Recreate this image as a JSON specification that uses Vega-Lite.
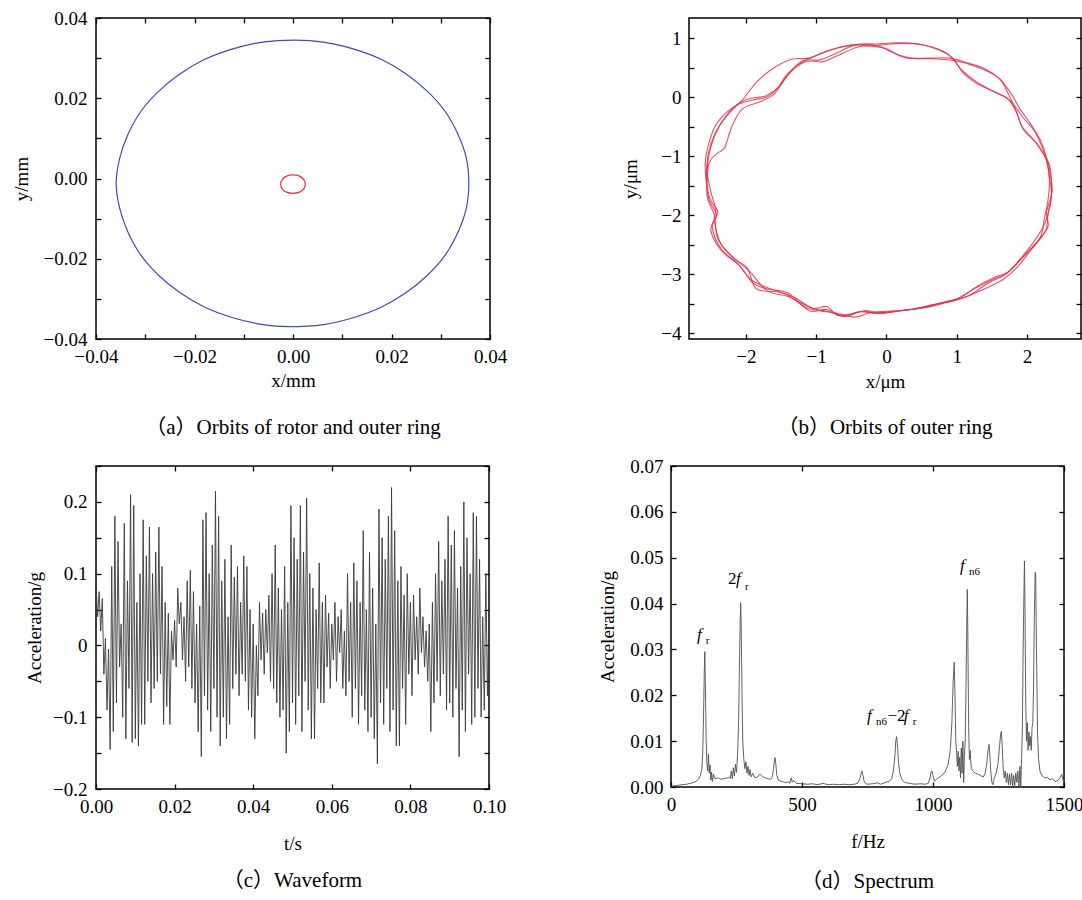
{
"$schema": "https://vega.github.io/schema/vega-lite/v6.json",
"background": "white",
"padding": {"left": 10, "top": 8, "right": 0, "bottom": 0},
"config": {
  "font": "Liberation Serif",
  "view": {"stroke": "black", "strokeWidth": 1.5},
  "axis": {"domain": false, "grid": false, "ticks": true, "tickColor": "black", "tickWidth": 1.3, "tickSize": 5, "offset": -5,
    "labelFont": "Liberation Serif", "labelFontSize": 19, "labelColor": "black", "labelFlush": false, "labelOverlap": false, "labelPadding": 8,
    "titleFont": "Liberation Serif", "titleFontSize": 19, "titleFontWeight": "normal", "titleColor": "black"},
  "title": {"font": "Liberation Serif, Noto Sans CJK SC", "fontSize": 21, "fontWeight": "normal", "color": "black", "orient": "bottom", "anchor": "middle"}
},
"datasets": {
"orbA": [
{"s":"rotor","x":0.0357,"y":-0.0012},{"s":"rotor","x":0.0352,"y":0.0050},{"s":"rotor","x":0.0335,"y":0.0110},{"s":"rotor","x":0.0309,"y":0.0167},{"s":"rotor","x":0.0273,"y":0.0217},{"s":"rotor","x":0.0229,"y":0.0261},{"s":"rotor","x":0.0179,"y":0.0297},{"s":"rotor","x":0.0122,"y":0.0323},{"s":"rotor","x":0.0062,"y":0.0340},{"s":"rotor","x":0.0003,"y":0.0345},{"s":"rotor","x":-0.0062,"y":0.0340},{"s":"rotor","x":-0.0122,"y":0.0323},{"s":"rotor","x":-0.0179,"y":0.0297},{"s":"rotor","x":-0.0229,"y":0.0261},{"s":"rotor","x":-0.0273,"y":0.0217},{"s":"rotor","x":-0.0309,"y":0.0167},{"s":"rotor","x":-0.0335,"y":0.0110},{"s":"rotor","x":-0.0352,"y":0.0050},{"s":"rotor","x":-0.0359,"y":-0.0014},{"s":"rotor","x":-0.0352,"y":-0.0074},{"s":"rotor","x":-0.0335,"y":-0.0134},{"s":"rotor","x":-0.0309,"y":-0.0191},{"s":"rotor","x":-0.0273,"y":-0.0241},{"s":"rotor","x":-0.0229,"y":-0.0285},{"s":"rotor","x":-0.0179,"y":-0.0321},{"s":"rotor","x":-0.0122,"y":-0.0347},{"s":"rotor","x":-0.0062,"y":-0.0364},{"s":"rotor","x":-0.0008,"y":-0.0369},{"s":"rotor","x":0.0062,"y":-0.0364},{"s":"rotor","x":0.0122,"y":-0.0347},{"s":"rotor","x":0.0179,"y":-0.0321},{"s":"rotor","x":0.0229,"y":-0.0285},{"s":"rotor","x":0.0273,"y":-0.0241},{"s":"rotor","x":0.0309,"y":-0.0191},{"s":"rotor","x":0.0335,"y":-0.0134},{"s":"rotor","x":0.0352,"y":-0.0074},
{"s":"ring","x":0.0025,"y":-0.0014},{"s":"ring","x":0.0022,"y":-0.0003},{"s":"ring","x":0.0013,"y":0.0006},{"s":"ring","x":0.0000,"y":0.0009},{"s":"ring","x":-0.0013,"y":0.0006},{"s":"ring","x":-0.0022,"y":-0.0003},{"s":"ring","x":-0.0025,"y":-0.0014},{"s":"ring","x":-0.0022,"y":-0.0026},{"s":"ring","x":-0.0013,"y":-0.0034},{"s":"ring","x":0.0000,"y":-0.0037},{"s":"ring","x":0.0013,"y":-0.0034},{"s":"ring","x":0.0022,"y":-0.0026}
],
"orbB": [
{"s":1,"x":-2.55,"y":-1.25},{"s":1,"x":-2.50,"y":-0.85},{"s":1,"x":-2.38,"y":-0.50},{"s":1,"x":-2.22,"y":-0.25},{"s":1,"x":-2.05,"y":-0.05},{"s":1,"x":-1.85,"y":0.25},{"s":1,"x":-1.62,"y":0.48},{"s":1,"x":-1.35,"y":0.64},{"s":1,"x":-1.10,"y":0.66},{"s":1,"x":-0.85,"y":0.78},{"s":1,"x":-0.50,"y":0.88},{"s":1,"x":-0.20,"y":0.86},{"s":1,"x":0.00,"y":0.82},{"s":1,"x":0.15,"y":0.72},{"s":1,"x":0.30,"y":0.66},{"s":1,"x":0.60,"y":0.66},{"s":1,"x":0.90,"y":0.66},{"s":1,"x":1.15,"y":0.58},{"s":1,"x":1.40,"y":0.48},{"s":1,"x":1.62,"y":0.30},{"s":1,"x":1.78,"y":0.05},{"s":1,"x":1.90,"y":-0.20},{"s":1,"x":2.05,"y":-0.45},{"s":1,"x":2.20,"y":-0.75},{"s":1,"x":2.28,"y":-1.05},{"s":1,"x":2.32,"y":-1.40},{"s":1,"x":2.30,"y":-1.75},{"s":1,"x":2.25,"y":-2.05},{"s":1,"x":2.20,"y":-2.35},{"s":1,"x":2.05,"y":-2.60},{"s":1,"x":1.85,"y":-2.90},{"s":1,"x":1.65,"y":-3.10},{"s":1,"x":1.40,"y":-3.25},{"s":1,"x":1.10,"y":-3.40},{"s":1,"x":0.80,"y":-3.50},{"s":1,"x":0.50,"y":-3.58},{"s":1,"x":0.20,"y":-3.62},{"s":1,"x":-0.10,"y":-3.65},{"s":1,"x":-0.30,"y":-3.62},{"s":1,"x":-0.50,"y":-3.68},{"s":1,"x":-0.70,"y":-3.70},{"s":1,"x":-0.85,"y":-3.55},{"s":1,"x":-1.05,"y":-3.58},{"s":1,"x":-1.30,"y":-3.40},{"s":1,"x":-1.55,"y":-3.30},{"s":1,"x":-1.85,"y":-3.25},{"s":1,"x":-1.98,"y":-2.90},{"s":1,"x":-2.15,"y":-2.75},{"s":1,"x":-2.35,"y":-2.50},{"s":1,"x":-2.45,"y":-2.10},{"s":1,"x":-2.43,"y":-1.90},{"s":1,"x":-2.50,"y":-1.60},
{"s":2,"x":-2.58,"y":-1.15},{"s":2,"x":-2.52,"y":-0.75},{"s":2,"x":-2.40,"y":-0.42},{"s":2,"x":-2.15,"y":-0.15},{"s":2,"x":-1.90,"y":-0.05},{"s":2,"x":-1.70,"y":0.00},{"s":2,"x":-1.55,"y":0.15},{"s":2,"x":-1.40,"y":0.40},{"s":2,"x":-1.15,"y":0.60},{"s":2,"x":-0.90,"y":0.60},{"s":2,"x":-0.70,"y":0.70},{"s":2,"x":-0.40,"y":0.85},{"s":2,"x":-0.10,"y":0.88},{"s":2,"x":0.20,"y":0.91},{"s":2,"x":0.50,"y":0.89},{"s":2,"x":0.80,"y":0.78},{"s":2,"x":0.95,"y":0.65},{"s":2,"x":1.10,"y":0.40},{"s":2,"x":1.30,"y":0.22},{"s":2,"x":1.55,"y":0.08},{"s":2,"x":1.75,"y":-0.05},{"s":2,"x":1.85,"y":-0.25},{"s":2,"x":1.95,"y":-0.55},{"s":2,"x":2.15,"y":-0.80},{"s":2,"x":2.30,"y":-1.10},{"s":2,"x":2.33,"y":-1.30},{"s":2,"x":2.36,"y":-1.60},{"s":2,"x":2.28,"y":-1.95},{"s":2,"x":2.30,"y":-2.20},{"s":2,"x":2.15,"y":-2.45},{"s":2,"x":1.95,"y":-2.70},{"s":2,"x":1.75,"y":-2.95},{"s":2,"x":1.55,"y":-3.05},{"s":2,"x":1.30,"y":-3.20},{"s":2,"x":1.05,"y":-3.40},{"s":2,"x":0.80,"y":-3.48},{"s":2,"x":0.50,"y":-3.57},{"s":2,"x":0.20,"y":-3.62},{"s":2,"x":-0.10,"y":-3.67},{"s":2,"x":-0.35,"y":-3.63},{"s":2,"x":-0.60,"y":-3.72},{"s":2,"x":-0.85,"y":-3.60},{"s":2,"x":-1.10,"y":-3.62},{"s":2,"x":-1.40,"y":-3.32},{"s":2,"x":-1.70,"y":-3.25},{"s":2,"x":-1.90,"y":-3.15},{"s":2,"x":-2.10,"y":-2.85},{"s":2,"x":-2.35,"y":-2.60},{"s":2,"x":-2.50,"y":-2.25},{"s":2,"x":-2.40,"y":-1.95},{"s":2,"x":-2.52,"y":-1.70},
{"s":3,"x":-2.52,"y":-1.10},{"s":3,"x":-2.40,"y":-0.95},{"s":3,"x":-2.30,"y":-0.85},{"s":3,"x":-2.20,"y":-0.50},{"s":3,"x":-2.05,"y":-0.20},{"s":3,"x":-1.80,"y":-0.08},{"s":3,"x":-1.60,"y":0.05},{"s":3,"x":-1.45,"y":0.30},{"s":3,"x":-1.25,"y":0.55},{"s":3,"x":-1.00,"y":0.70},{"s":3,"x":-0.60,"y":0.86},{"s":3,"x":-0.30,"y":0.90},{"s":3,"x":-0.10,"y":0.86},{"s":3,"x":0.10,"y":0.75},{"s":3,"x":0.35,"y":0.66},{"s":3,"x":0.65,"y":0.65},{"s":3,"x":0.95,"y":0.62},{"s":3,"x":1.20,"y":0.55},{"s":3,"x":1.50,"y":0.40},{"s":3,"x":1.65,"y":0.25},{"s":3,"x":1.80,"y":-0.10},{"s":3,"x":1.95,"y":-0.35},{"s":3,"x":2.12,"y":-0.60},{"s":3,"x":2.25,"y":-0.95},{"s":3,"x":2.33,"y":-1.20},{"s":3,"x":2.35,"y":-1.55},{"s":3,"x":2.33,"y":-1.85},{"s":3,"x":2.25,"y":-2.15},{"s":3,"x":2.10,"y":-2.45},{"s":3,"x":1.90,"y":-2.75},{"s":3,"x":1.70,"y":-3.00},{"s":3,"x":1.45,"y":-3.15},{"s":3,"x":1.20,"y":-3.35},{"s":3,"x":0.95,"y":-3.45},{"s":3,"x":0.65,"y":-3.52},{"s":3,"x":0.35,"y":-3.60},{"s":3,"x":0.00,"y":-3.63},{"s":3,"x":-0.25,"y":-3.66},{"s":3,"x":-0.45,"y":-3.73},{"s":3,"x":-0.75,"y":-3.65},{"s":3,"x":-0.95,"y":-3.62},{"s":3,"x":-1.20,"y":-3.50},{"s":3,"x":-1.40,"y":-3.38},{"s":3,"x":-1.70,"y":-3.28},{"s":3,"x":-1.95,"y":-2.95},{"s":3,"x":-2.20,"y":-2.70},{"s":3,"x":-2.40,"y":-2.40},{"s":3,"x":-2.45,"y":-2.00},{"s":3,"x":-2.55,"y":-1.70},{"s":3,"x":-2.55,"y":-1.40},
{"s":4,"x":-2.56,"y":-1.20},{"s":4,"x":-2.50,"y":-0.80},{"s":4,"x":-2.36,"y":-0.45},{"s":4,"x":-2.12,"y":-0.12},{"s":4,"x":-1.92,"y":-0.02},{"s":4,"x":-1.72,"y":0.02},{"s":4,"x":-1.52,"y":0.18},{"s":4,"x":-1.38,"y":0.42},{"s":4,"x":-1.18,"y":0.62},{"s":4,"x":-0.95,"y":0.63},{"s":4,"x":-0.72,"y":0.74},{"s":4,"x":-0.45,"y":0.88},{"s":4,"x":-0.15,"y":0.90},{"s":4,"x":0.15,"y":0.92},{"s":4,"x":0.45,"y":0.90},{"s":4,"x":0.75,"y":0.80},{"s":4,"x":0.92,"y":0.68},{"s":4,"x":1.08,"y":0.45},{"s":4,"x":1.28,"y":0.26},{"s":4,"x":1.52,"y":0.10},{"s":4,"x":1.72,"y":-0.02},{"s":4,"x":1.84,"y":-0.22},{"s":4,"x":1.93,"y":-0.50},{"s":4,"x":2.12,"y":-0.76},{"s":4,"x":2.27,"y":-1.05},{"s":4,"x":2.32,"y":-1.35},{"s":4,"x":2.35,"y":-1.65},{"s":4,"x":2.30,"y":-1.98},{"s":4,"x":2.27,"y":-2.25},{"s":4,"x":2.12,"y":-2.50},{"s":4,"x":1.92,"y":-2.74},{"s":4,"x":1.72,"y":-2.98},{"s":4,"x":1.50,"y":-3.10},{"s":4,"x":1.25,"y":-3.25},{"s":4,"x":1.00,"y":-3.42},{"s":4,"x":0.75,"y":-3.50},{"s":4,"x":0.45,"y":-3.58},{"s":4,"x":0.15,"y":-3.63},{"s":4,"x":-0.15,"y":-3.66},{"s":4,"x":-0.38,"y":-3.64},{"s":4,"x":-0.62,"y":-3.70},{"s":4,"x":-0.88,"y":-3.62},{"s":4,"x":-1.12,"y":-3.58},{"s":4,"x":-1.42,"y":-3.35},{"s":4,"x":-1.72,"y":-3.22},{"s":4,"x":-1.92,"y":-3.10},{"s":4,"x":-2.12,"y":-2.82},{"s":4,"x":-2.36,"y":-2.56},{"s":4,"x":-2.48,"y":-2.20},{"s":4,"x":-2.42,"y":-1.98},{"s":4,"x":-2.53,"y":-1.72}
],
"wave": [
{"t":0.0000,"a":0.085},{"t":0.0004,"a":0.040},{"t":0.0008,"a":0.075},{"t":0.0012,"a":0.020},{"t":0.0016,"a":0.065},{"t":0.0020,"a":-0.040},{"t":0.0024,"a":0.010},{"t":0.0028,"a":-0.090},{"t":0.0032,"a":-0.005},{"t":0.0036,"a":-0.145},{"t":0.0040,"a":0.110},{"t":0.0044,"a":-0.120},{"t":0.0048,"a":0.180},{"t":0.0052,"a":-0.080},{"t":0.0056,"a":0.145},{"t":0.0060,"a":-0.030},{"t":0.0064,"a":0.030},{"t":0.0068,"a":-0.100},{"t":0.0072,"a":0.170},{"t":0.0076,"a":-0.130},{"t":0.0080,"a":0.090},{"t":0.0084,"a":-0.060},{"t":0.0088,"a":0.210},{"t":0.0092,"a":-0.135},{"t":0.0096,"a":0.195},{"t":0.0100,"a":-0.130},
{"t":0.0104,"a":0.060},{"t":0.0108,"a":-0.140},{"t":0.0112,"a":0.100},{"t":0.0116,"a":-0.110},{"t":0.0120,"a":0.175},{"t":0.0124,"a":-0.110},{"t":0.0128,"a":0.125},{"t":0.0132,"a":-0.050},{"t":0.0136,"a":0.165},{"t":0.0140,"a":-0.080},{"t":0.0144,"a":0.100},{"t":0.0148,"a":-0.060},{"t":0.0152,"a":0.130},{"t":0.0156,"a":-0.050},{"t":0.0160,"a":0.165},{"t":0.0164,"a":-0.040},{"t":0.0168,"a":0.110},{"t":0.0172,"a":-0.110},{"t":0.0176,"a":0.060},{"t":0.0180,"a":-0.085},{"t":0.0184,"a":0.045},{"t":0.0188,"a":-0.110},{"t":0.0192,"a":0.020},{"t":0.0196,"a":-0.020},{"t":0.0200,"a":0.035},
{"t":0.0204,"a":-0.030},{"t":0.0208,"a":0.080},{"t":0.0212,"a":0.030},{"t":0.0216,"a":0.060},{"t":0.0220,"a":-0.020},{"t":0.0224,"a":0.040},{"t":0.0228,"a":-0.050},{"t":0.0232,"a":0.090},{"t":0.0236,"a":-0.030},{"t":0.0240,"a":0.105},{"t":0.0244,"a":-0.060},{"t":0.0248,"a":0.075},{"t":0.0252,"a":-0.080},{"t":0.0256,"a":0.030},{"t":0.0260,"a":-0.120},{"t":0.0264,"a":0.055},{"t":0.0268,"a":-0.155},{"t":0.0272,"a":0.175},{"t":0.0276,"a":-0.070},{"t":0.0280,"a":0.185},{"t":0.0284,"a":-0.090},{"t":0.0288,"a":0.100},{"t":0.0292,"a":-0.120},{"t":0.0296,"a":0.140},{"t":0.0300,"a":-0.060},
{"t":0.0304,"a":0.215},{"t":0.0308,"a":-0.100},{"t":0.0312,"a":0.180},{"t":0.0316,"a":-0.140},{"t":0.0320,"a":0.090},{"t":0.0324,"a":-0.100},{"t":0.0328,"a":0.120},{"t":0.0332,"a":-0.130},{"t":0.0336,"a":0.040},{"t":0.0340,"a":-0.110},{"t":0.0344,"a":0.140},{"t":0.0348,"a":-0.060},{"t":0.0352,"a":0.095},{"t":0.0356,"a":-0.040},{"t":0.0360,"a":0.110},{"t":0.0364,"a":-0.070},{"t":0.0368,"a":0.060},{"t":0.0372,"a":-0.040},{"t":0.0376,"a":0.125},{"t":0.0380,"a":-0.050},{"t":0.0384,"a":0.110},{"t":0.0388,"a":-0.090},{"t":0.0392,"a":0.050},{"t":0.0396,"a":-0.100},{"t":0.0400,"a":0.030},
{"t":0.0404,"a":-0.130},{"t":0.0408,"a":0.000},{"t":0.0412,"a":-0.070},{"t":0.0416,"a":0.060},{"t":0.0420,"a":-0.020},{"t":0.0424,"a":0.045},{"t":0.0428,"a":-0.040},{"t":0.0432,"a":0.050},{"t":0.0436,"a":-0.010},{"t":0.0440,"a":0.070},{"t":0.0444,"a":-0.050},{"t":0.0448,"a":0.100},{"t":0.0452,"a":-0.060},{"t":0.0456,"a":0.140},{"t":0.0460,"a":-0.080},{"t":0.0464,"a":0.080},{"t":0.0468,"a":-0.100},{"t":0.0472,"a":0.050},{"t":0.0476,"a":-0.090},{"t":0.0480,"a":0.110},{"t":0.0484,"a":-0.150},{"t":0.0488,"a":0.060},{"t":0.0492,"a":-0.120},{"t":0.0496,"a":0.195},{"t":0.0500,"a":-0.080},
{"t":0.0504,"a":0.150},{"t":0.0508,"a":-0.110},{"t":0.0512,"a":0.120},{"t":0.0516,"a":-0.070},{"t":0.0520,"a":0.195},{"t":0.0524,"a":-0.120},{"t":0.0528,"a":0.130},{"t":0.0532,"a":-0.050},{"t":0.0536,"a":0.205},{"t":0.0540,"a":-0.090},{"t":0.0544,"a":0.100},{"t":0.0548,"a":-0.130},{"t":0.0552,"a":0.080},{"t":0.0556,"a":-0.130},{"t":0.0560,"a":0.050},{"t":0.0564,"a":-0.060},{"t":0.0568,"a":0.115},{"t":0.0572,"a":-0.080},{"t":0.0576,"a":0.060},{"t":0.0580,"a":-0.080},{"t":0.0584,"a":0.070},{"t":0.0588,"a":-0.030},{"t":0.0592,"a":0.045},{"t":0.0596,"a":-0.060},{"t":0.0600,"a":0.030},
{"t":0.0604,"a":-0.020},{"t":0.0608,"a":0.060},{"t":0.0612,"a":-0.050},{"t":0.0616,"a":0.040},{"t":0.0620,"a":-0.010},{"t":0.0624,"a":0.050},{"t":0.0628,"a":-0.060},{"t":0.0632,"a":0.020},{"t":0.0636,"a":-0.070},{"t":0.0640,"a":0.100},{"t":0.0644,"a":-0.050},{"t":0.0648,"a":0.060},{"t":0.0652,"a":-0.100},{"t":0.0656,"a":0.115},{"t":0.0660,"a":-0.060},{"t":0.0664,"a":0.090},{"t":0.0668,"a":-0.110},{"t":0.0672,"a":0.060},{"t":0.0676,"a":-0.070},{"t":0.0680,"a":0.160},{"t":0.0684,"a":-0.090},{"t":0.0688,"a":0.050},{"t":0.0692,"a":-0.120},{"t":0.0696,"a":0.130},{"t":0.0700,"a":-0.100},
{"t":0.0704,"a":0.080},{"t":0.0708,"a":-0.130},{"t":0.0712,"a":0.030},{"t":0.0716,"a":-0.165},{"t":0.0720,"a":0.190},{"t":0.0724,"a":-0.080},{"t":0.0728,"a":0.150},{"t":0.0732,"a":-0.110},{"t":0.0736,"a":0.120},{"t":0.0740,"a":-0.060},{"t":0.0744,"a":0.180},{"t":0.0748,"a":-0.120},{"t":0.0752,"a":0.220},{"t":0.0756,"a":-0.090},{"t":0.0760,"a":0.160},{"t":0.0764,"a":-0.140},{"t":0.0768,"a":0.090},{"t":0.0772,"a":-0.140},{"t":0.0776,"a":0.110},{"t":0.0780,"a":-0.060},{"t":0.0784,"a":0.070},{"t":0.0788,"a":-0.110},{"t":0.0792,"a":0.100},{"t":0.0796,"a":-0.040},{"t":0.0800,"a":0.060},
{"t":0.0804,"a":-0.070},{"t":0.0808,"a":0.070},{"t":0.0812,"a":-0.020},{"t":0.0816,"a":0.040},{"t":0.0820,"a":-0.040},{"t":0.0824,"a":0.080},{"t":0.0828,"a":-0.010},{"t":0.0832,"a":0.040},{"t":0.0836,"a":-0.030},{"t":0.0840,"a":0.020},{"t":0.0844,"a":-0.050},{"t":0.0848,"a":0.030},{"t":0.0852,"a":-0.120},{"t":0.0856,"a":0.060},{"t":0.0860,"a":-0.080},{"t":0.0864,"a":0.100},{"t":0.0868,"a":-0.050},{"t":0.0872,"a":0.145},{"t":0.0876,"a":-0.070},{"t":0.0880,"a":0.090},{"t":0.0884,"a":-0.040},{"t":0.0888,"a":0.120},{"t":0.0892,"a":-0.090},{"t":0.0896,"a":0.180},{"t":0.0900,"a":-0.080},
{"t":0.0904,"a":0.140},{"t":0.0908,"a":-0.100},{"t":0.0912,"a":0.160},{"t":0.0916,"a":-0.060},{"t":0.0920,"a":0.080},{"t":0.0924,"a":-0.155},{"t":0.0928,"a":0.110},{"t":0.0932,"a":-0.090},{"t":0.0936,"a":0.200},{"t":0.0940,"a":-0.120},{"t":0.0944,"a":0.150},{"t":0.0948,"a":-0.040},{"t":0.0952,"a":0.100},{"t":0.0956,"a":-0.110},{"t":0.0960,"a":0.185},{"t":0.0964,"a":-0.100},{"t":0.0968,"a":0.180},{"t":0.0972,"a":-0.060},{"t":0.0976,"a":0.120},{"t":0.0980,"a":-0.100},{"t":0.0984,"a":0.040},{"t":0.0988,"a":-0.090},{"t":0.0992,"a":0.100},{"t":0.0996,"a":-0.070},{"t":0.1000,"a":0.050}
],
"spec": [
{"f":0,"a":0.0002},{"f":20,"a":0.0003},{"f":40,"a":0.0005},{"f":60,"a":0.0006},{"f":80,"a":0.0009},{"f":95,"a":0.0012},{"f":105,"a":0.0017},{"f":112,"a":0.0025},{"f":118,"a":0.0040},{"f":121,"a":0.0075},{"f":124,"a":0.0150},{"f":127,"a":0.0250},{"f":129,"a":0.0295},{"f":131,"a":0.0230},{"f":134,"a":0.0110},{"f":137,"a":0.0050},{"f":140,"a":0.0035},{"f":143,"a":0.0072},{"f":146,"a":0.0030},{"f":149,"a":0.0048},{"f":152,"a":0.0015},{"f":155,"a":0.0032},{"f":158,"a":0.0012},{"f":162,"a":0.0028},{"f":168,"a":0.0018},{"f":180,"a":0.0020},{"f":190,"a":0.0017},{"f":200,"a":0.0018},{"f":210,"a":0.0019},{"f":220,"a":0.0021},{"f":226,"a":0.0019},{"f":230,"a":0.0035},{"f":234,"a":0.0018},{"f":238,"a":0.0042},{"f":242,"a":0.0024},{"f":246,"a":0.0050},{"f":250,"a":0.0032},{"f":254,"a":0.0070},{"f":258,"a":0.0140},{"f":261,"a":0.0260},{"f":264,"a":0.0360},{"f":266,"a":0.0402},{"f":268,"a":0.0350},{"f":271,"a":0.0200},{"f":274,"a":0.0100},{"f":278,"a":0.0060},{"f":282,"a":0.0040},{"f":286,"a":0.0055},{"f":290,"a":0.0030},{"f":294,"a":0.0045},{"f":298,"a":0.0025},{"f":302,"a":0.0038},{"f":306,"a":0.0022},{"f":312,"a":0.0030},{"f":320,"a":0.0020},{"f":330,"a":0.0022},{"f":340,"a":0.0028},{"f":350,"a":0.0022},{"f":360,"a":0.0020},{"f":370,"a":0.0018},{"f":380,"a":0.0017},{"f":386,"a":0.0020},{"f":391,"a":0.0038},{"f":394,"a":0.0055},{"f":397,"a":0.0064},{"f":400,"a":0.0050},{"f":404,"a":0.0025},{"f":410,"a":0.0015},{"f":420,"a":0.0012},{"f":430,"a":0.0011},{"f":440,"a":0.0009},{"f":448,"a":0.0012},{"f":453,"a":0.0008},{"f":459,"a":0.0020},{"f":463,"a":0.0010},{"f":468,"a":0.0014},{"f":478,"a":0.0008},{"f":500,"a":0.0007},{"f":520,"a":0.0006},{"f":540,"a":0.0007},{"f":560,"a":0.0005},{"f":580,"a":0.0008},{"f":600,"a":0.0005},{"f":620,"a":0.0006},{"f":640,"a":0.0005},{"f":660,"a":0.0006},{"f":680,"a":0.0005},{"f":700,"a":0.0006},{"f":712,"a":0.0008},{"f":721,"a":0.0018},{"f":726,"a":0.0030},{"f":729,"a":0.0035},{"f":733,"a":0.0025},{"f":738,"a":0.0010},{"f":748,"a":0.0006},{"f":768,"a":0.0007},{"f":788,"a":0.0009},{"f":800,"a":0.0006},{"f":818,"a":0.0010},{"f":832,"a":0.0012},{"f":842,"a":0.0018},{"f":849,"a":0.0035},{"f":855,"a":0.0070},{"f":858,"a":0.0100},{"f":861,"a":0.0110},{"f":864,"a":0.0095},{"f":868,"a":0.0055},{"f":874,"a":0.0028},{"f":882,"a":0.0016},{"f":892,"a":0.0010},{"f":910,"a":0.0008},{"f":930,"a":0.0006},{"f":950,"a":0.0007},{"f":970,"a":0.0006},{"f":982,"a":0.0008},{"f":989,"a":0.0020},{"f":993,"a":0.0033},{"f":996,"a":0.0035},{"f":1000,"a":0.0025},{"f":1005,"a":0.0013},{"f":1016,"a":0.0018},{"f":1031,"a":0.0024},{"f":1046,"a":0.0033},{"f":1058,"a":0.0050},{"f":1066,"a":0.0080},{"f":1072,"a":0.0140},{"f":1077,"a":0.0230},{"f":1081,"a":0.0272},{"f":1084,"a":0.0200},{"f":1087,"a":0.0100},{"f":1090,"a":0.0075},{"f":1093,"a":0.0045},{"f":1096,"a":0.0078},{"f":1099,"a":0.0035},{"f":1102,"a":0.0065},{"f":1105,"a":0.0020},{"f":1108,"a":0.0085},{"f":1111,"a":0.0030},{"f":1114,"a":0.0100},{"f":1117,"a":0.0010},{"f":1120,"a":0.0070},{"f":1123,"a":0.0100},{"f":1126,"a":0.0220},{"f":1129,"a":0.0360},{"f":1131,"a":0.0431},{"f":1133,"a":0.0330},{"f":1136,"a":0.0130},{"f":1139,"a":0.0060},{"f":1142,"a":0.0080},{"f":1146,"a":0.0040},{"f":1152,"a":0.0035},{"f":1162,"a":0.0030},{"f":1172,"a":0.0028},{"f":1182,"a":0.0025},{"f":1192,"a":0.0022},{"f":1199,"a":0.0030},{"f":1205,"a":0.0050},{"f":1210,"a":0.0080},{"f":1214,"a":0.0093},{"f":1217,"a":0.0070},{"f":1221,"a":0.0030},{"f":1225,"a":0.0010},{"f":1229,"a":0.0005},{"f":1234,"a":0.0020},{"f":1241,"a":0.0030},{"f":1248,"a":0.0050},{"f":1254,"a":0.0090},{"f":1258,"a":0.0115},{"f":1261,"a":0.0121},{"f":1264,"a":0.0090},{"f":1268,"a":0.0040},{"f":1272,"a":0.0020},{"f":1276,"a":0.0035},{"f":1280,"a":0.0010},{"f":1284,"a":0.0030},{"f":1288,"a":0.0005},{"f":1292,"a":0.0028},{"f":1296,"a":0.0005},{"f":1300,"a":0.0030},{"f":1304,"a":0.0003},{"f":1308,"a":0.0025},{"f":1312,"a":0.0003},{"f":1316,"a":0.0030},{"f":1320,"a":0.0010},{"f":1324,"a":0.0035},{"f":1328,"a":0.0002},{"f":1332,"a":0.0045},{"f":1335,"a":0.0000},{"f":1338,"a":0.0060},{"f":1341,"a":0.0120},{"f":1344,"a":0.0300},{"f":1347,"a":0.0420},{"f":1349,"a":0.0493},{"f":1351,"a":0.0400},{"f":1354,"a":0.0180},{"f":1357,"a":0.0100},{"f":1360,"a":0.0140},{"f":1363,"a":0.0080},{"f":1366,"a":0.0120},{"f":1369,"a":0.0090},{"f":1372,"a":0.0110},{"f":1375,"a":0.0080},{"f":1378,"a":0.0130},{"f":1381,"a":0.0140},{"f":1384,"a":0.0220},{"f":1387,"a":0.0380},{"f":1390,"a":0.0468},{"f":1392,"a":0.0460},{"f":1395,"a":0.0300},{"f":1399,"a":0.0120},{"f":1403,"a":0.0060},{"f":1408,"a":0.0035},{"f":1416,"a":0.0025},{"f":1426,"a":0.0020},{"f":1436,"a":0.0021},{"f":1446,"a":0.0016},{"f":1456,"a":0.0018},{"f":1466,"a":0.0012},{"f":1476,"a":0.0014},{"f":1485,"a":0.0020},{"f":1491,"a":0.0028},{"f":1496,"a":0.0016},{"f":1500,"a":0.0008}
],
"ann": [
{"f":99,"v":0.0320,"s":"f","k":"i"},{"f":133,"v":0.0312,"s":"r","k":"b"},
{"f":218,"v":0.0443,"s":"2","k":"u"},{"f":248,"v":0.0443,"s":"f","k":"i"},{"f":282,"v":0.0429,"s":"r","k":"b"},
{"f":748,"v":0.0144,"s":"f","k":"i"},{"f":782,"v":0.0135,"s":"n6","k":"b"},{"f":826,"v":0.0144,"s":"−2","k":"u"},{"f":888,"v":0.0144,"s":"f","k":"i"},{"f":923,"v":0.0135,"s":"r","k":"b"},
{"f":1103,"v":0.0471,"s":"f","k":"i"},{"f":1137,"v":0.0462,"s":"n6","k":"b"}
]
},
"vconcat": [
{"hconcat": [
 {"width": 394, "height": 321, "data": {"name": "orbA"},
  "title": {"text": "（a）Orbits of rotor and outer ring", "offset": 27},
  "layer": [
   {"mark": {"type": "line", "interpolate": "cardinal-closed", "strokeWidth": 1.2},
    "encoding": {
     "x": {"field": "x", "type": "quantitative", "scale": {"domain": [-0.04, 0.04], "nice": false, "zero": false},
       "axis": {"orient": "bottom", "values": [-0.04,-0.03,-0.02,-0.01,0,0.01,0.02,0.03,0.04], "labelExpr": "abs(round(datum.value*100)) % 2 == 0 ? format(datum.value, '.2f') : ''", "title": "x/mm", "titlePadding": 5}},
     "y": {"field": "y", "type": "quantitative", "scale": {"domain": [-0.04, 0.04], "nice": false, "zero": false},
       "axis": {"orient": "left", "values": [-0.04,-0.03,-0.02,-0.01,0,0.01,0.02,0.03,0.04], "labelExpr": "abs(round(datum.value*100)) % 2 == 0 ? format(datum.value, '.2f') : ''", "title": "y/mm", "titlePadding": 12, "labelPadding": 9}},
     "color": {"field": "s", "type": "nominal", "scale": {"domain": ["rotor", "ring"], "range": ["#3d4db0", "#e8323c"]}, "legend": null},
     "order": {"value": null}}},
   {"mark": {"type": "line", "opacity": 0},
    "encoding": {
     "x": {"field": "x", "type": "quantitative", "scale": {"domain": [-0.04, 0.04], "nice": false, "zero": false},
       "axis": {"orient": "top", "values": [-0.04,-0.03,-0.02,-0.01,0,0.01,0.02,0.03,0.04], "labels": false, "title": null}},
     "y": {"field": "y", "type": "quantitative", "scale": {"domain": [-0.04, 0.04], "nice": false, "zero": false},
       "axis": {"orient": "right", "values": [-0.04,-0.03,-0.02,-0.01,0,0.01,0.02,0.03,0.04], "labels": false, "title": null}},
     "detail": {"field": "s"}, "order": {"value": null}}}
  ],
  "resolve": {"axis": {"x": "independent", "y": "independent"}}
 },
 {"width": 392, "height": 321, "data": {"name": "orbB"},
  "title": {"text": "（b）Orbits of outer ring", "offset": 26},
  "layer": [
   {"mark": {"type": "line", "interpolate": "cardinal-closed", "strokeWidth": 1.1, "color": "#e6304a", "opacity": 0.85},
    "encoding": {
     "x": {"field": "x", "type": "quantitative", "scale": {"domain": [-2.81, 2.77], "nice": false, "zero": false},
       "axis": {"orient": "bottom", "values": [-2,-1,0,1,2], "format": "d", "title": "x/μm", "titlePadding": 6}},
     "y": {"field": "y", "type": "quantitative", "scale": {"domain": [-4.1, 1.34], "nice": false, "zero": false},
       "axis": {"orient": "left", "values": [-4,-3.5,-3,-2.5,-2,-1.5,-1,-0.5,0,0.5,1], "labelExpr": "abs(round(datum.value*2)) % 2 == 0 ? format(datum.value, 'd') : ''", "title": "y/μm", "titlePadding": 20, "labelPadding": 8}},
     "detail": {"field": "s"},
     "order": {"value": null}}},
   {"mark": {"type": "line", "opacity": 0},
    "encoding": {
     "x": {"field": "x", "type": "quantitative", "scale": {"domain": [-2.81, 2.77], "nice": false, "zero": false},
       "axis": {"orient": "top", "values": [-2,-1,0,1,2], "labels": false, "title": null}},
     "y": {"field": "y", "type": "quantitative", "scale": {"domain": [-4.1, 1.34], "nice": false, "zero": false},
       "axis": {"orient": "right", "values": [-4,-3.5,-3,-2.5,-2,-1.5,-1,-0.5,0,0.5,1], "labels": false, "title": null}},
     "detail": {"field": "s"}, "order": {"value": null}}}
  ],
  "resolve": {"axis": {"x": "independent", "y": "independent"}}
 }
], "spacing": 199, "bounds": "flush"},
{"hconcat": [
 {"width": 393, "height": 323, "data": {"name": "wave"},
  "title": {"text": "（c）Waveform", "offset": 17},
  "layer": [
   {"mark": {"type": "line", "strokeWidth": 0.9, "color": "#3a3a3a"},
    "encoding": {
     "x": {"field": "t", "type": "quantitative", "scale": {"domain": [0, 0.1], "nice": false, "zero": false},
       "axis": {"orient": "bottom", "values": [0,0.02,0.04,0.06,0.08,0.1], "format": ".2f", "title": "t/s", "titlePadding": 18}},
     "y": {"field": "a", "type": "quantitative", "scale": {"domain": [-0.2, 0.25], "nice": false, "zero": false},
       "axis": {"orient": "left", "values": [-0.2,-0.15,-0.1,-0.05,0,0.05,0.1,0.15,0.2,0.25], "labelExpr": "abs(round(datum.value*20)) % 2 == 0 ? (datum.value == 0 ? '0' : format(datum.value, '.1f')) : ''", "title": "Acceleration/g", "titlePadding": 8, "labelPadding": 9}}}},
   {"mark": {"type": "line", "opacity": 0},
    "encoding": {
     "x": {"field": "t", "type": "quantitative", "scale": {"domain": [0, 0.1], "nice": false, "zero": false},
       "axis": {"orient": "top", "values": [0,0.02,0.04,0.06,0.08,0.1], "labels": false, "title": ".", "titleOpacity": 0, "titleX": -85, "titleY": 40, "titleAlign": "left", "titleAngle": 0, "titleBaseline": "middle"}},
     "y": {"field": "a", "type": "quantitative", "scale": {"domain": [-0.2, 0.25], "nice": false, "zero": false},
       "axis": {"orient": "right", "values": [-0.2,-0.15,-0.1,-0.05,0,0.05,0.1,0.15,0.2,0.25], "labels": false, "title": null}}}}
  ],
  "resolve": {"axis": {"x": "independent", "y": "independent"}}
 },
 {"width": 393, "height": 321,
  "title": {"text": "（d）Spectrum", "offset": 20},
  "layer": [
   {"data": {"name": "spec"},
    "mark": {"type": "line", "strokeWidth": 0.9, "color": "#505050"},
    "encoding": {
     "x": {"field": "f", "type": "quantitative", "scale": {"domain": [0, 1500], "nice": false, "zero": false},
       "axis": {"orient": "bottom", "values": [0,500,1000,1500], "format": "d", "title": "f/Hz", "titlePadding": 18}},
     "y": {"field": "a", "type": "quantitative", "scale": {"domain": [0, 0.07], "nice": false, "zero": false},
       "axis": {"orient": "left", "values": [0,0.01,0.02,0.03,0.04,0.05,0.06,0.07], "format": ".2f", "title": "Acceleration/g", "titlePadding": 12, "labelPadding": 8}}}},
   {"data": {"name": "spec"},
    "mark": {"type": "line", "opacity": 0},
    "encoding": {
     "x": {"field": "f", "type": "quantitative", "scale": {"domain": [0, 1500], "nice": false, "zero": false},
       "axis": {"orient": "top", "values": [0,500,1000,1500], "labels": false, "title": null}},
     "y": {"field": "a", "type": "quantitative", "scale": {"domain": [0, 0.07], "nice": false, "zero": false},
       "axis": {"orient": "right", "values": [0,0.01,0.02,0.03,0.04,0.05,0.06,0.07], "labels": false, "title": null}}}},
   {"data": {"name": "ann"}, "transform": [{"filter": "datum.k == 'i'"}],
    "mark": {"type": "text", "align": "left", "baseline": "alphabetic", "fontSize": 17, "fontStyle": "italic", "font": "Liberation Serif", "color": "black"},
    "encoding": {"x": {"field": "f", "type": "quantitative", "axis": null}, "y": {"field": "v", "type": "quantitative", "axis": null}, "text": {"field": "s"}}},
   {"data": {"name": "ann"}, "transform": [{"filter": "datum.k == 'u'"}],
    "mark": {"type": "text", "align": "left", "baseline": "alphabetic", "fontSize": 17, "font": "Liberation Serif", "color": "black"},
    "encoding": {"x": {"field": "f", "type": "quantitative", "axis": null}, "y": {"field": "v", "type": "quantitative", "axis": null}, "text": {"field": "s"}}},
   {"data": {"name": "ann"}, "transform": [{"filter": "datum.k == 'b'"}],
    "mark": {"type": "text", "align": "left", "baseline": "alphabetic", "fontSize": 11, "font": "Liberation Serif", "color": "black"},
    "encoding": {"x": {"field": "f", "type": "quantitative", "axis": null}, "y": {"field": "v", "type": "quantitative", "axis": null}, "text": {"field": "s"}}}
  ],
  "resolve": {"axis": {"x": "independent", "y": "independent"}}
 }
], "spacing": 182, "bounds": "flush"}
],
"spacing": 17
}
